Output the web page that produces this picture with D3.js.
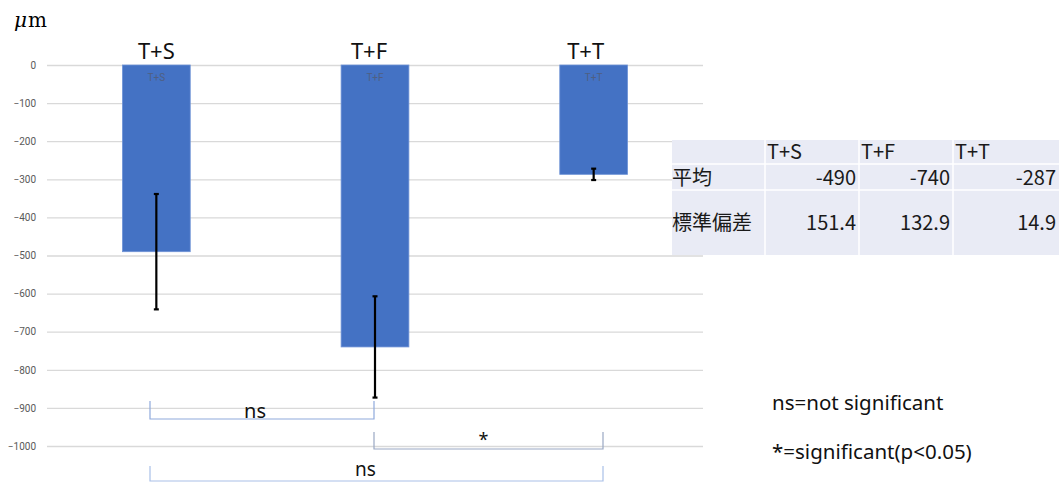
<!DOCTYPE html>
<html>
<head>
<meta charset="utf-8">
<script src="https://cdn.jsdelivr.net/npm/d3@7"></script>
<style>
  html, body { margin: 0; padding: 0; background: #fff; }
  svg { display: block; font-family: "Noto Sans CJK JP", "Noto Sans", sans-serif; }
</style>
</head>
<body>
<svg id="chart" width="1059" height="482"></svg>
<script>
// Mean displacement (µm) and standard deviation per group
const categories = ["T+S", "T+F", "T+T"];
const means = [-490, -740, -287];
const sds = [151.4, 132.9, 14.9];
const yTicks = [0, -100, -200, -300, -400, -500, -600, -700, -800, -900, -1000];

// Summary table rows
const tableHeader = ["", "T+S", "T+F", "T+T"];
const rowLabels = ["平均", "標準偏差"];
const meanText = ["-490", "-740", "-287"];
const sdText = ["151.4", "132.9", "14.9"];

// Pairwise comparisons: [from, to, label]
const comparisons = [
  ["T+S", "T+F", "ns"],
  ["T+F", "T+T", "*"],
  ["T+S", "T+T", "ns"]
];
const notes = ["ns=not significant", "*=significant(p<0.05)"];

const svg = d3.select("#chart");

const x = d3.scaleBand().domain(categories).range([47, 703]).paddingInner(0.69).paddingOuter(0.345);
const y = d3.scaleLinear().domain([0, -1000]).range([65, 446]);

// Gridlines + tick labels
const yAxis = d3.axisLeft(y).tickValues(yTicks).tickSize(-(703 - 47)).tickFormat(d3.format("d"));
const ga = svg.append("g").attr("transform", "translate(47,0)").call(yAxis);
ga.select(".domain").remove();
ga.selectAll(".tick line").attr("stroke", "#d9d9d9").attr("stroke-width", 1.3);
ga.selectAll(".tick text").attr("x", -11).attr("fill", "#595959")
  .style("font-family", "Roboto, 'Noto Sans', sans-serif").style("font-size", "10px");

// Unit label
svg.append("text").attr("x", 14).attr("y", 27)
  .style("font-family", "'DejaVu Serif', 'Liberation Serif', serif").style("font-size", "20px")
  .html('<tspan font-style="italic">μ</tspan><tspan dx="1">m</tspan>');

// Bars
svg.append("g").selectAll("rect").data(categories).join("rect")
  .attr("x", d => x(d))
  .attr("width", x.bandwidth())
  .attr("y", y(0))
  .attr("height", (d, i) => y(means[i]) - y(0))
  .attr("fill", "#4472c4")
  .attr("stroke", "#6f93d6").attr("stroke-width", 0.8);

// Inner labels
svg.append("g").selectAll("text").data(categories).join("text")
  .attr("x", d => x(d) + x.bandwidth() / 2)
  .attr("y", 81)
  .attr("text-anchor", "middle")
  .attr("fill", "#4f5f82")
  .style("font-size", "10px")
  .style("font-family", "Roboto, sans-serif")
  .text(d => d);

// Category titles above bars
svg.append("g").selectAll("text").data(categories).join("text")
  .attr("x", (d, i) => x(d) + x.bandwidth() / 2 - [0, 6, 8][i])
  .attr("y", 59)
  .attr("text-anchor", "middle")
  .attr("fill", "#111")
  .style("font-size", "22px")
  .style("font-family", "'Noto Sans', sans-serif")
  .text(d => d);

// Error bars
const eb = svg.append("g").attr("stroke", "#000").attr("stroke-width", 2.2);
categories.forEach((c, i) => {
  const cx = x(c) + x.bandwidth() / 2;
  const top = y(means[i] + sds[i]);
  const bot = y(means[i] - sds[i]);
  eb.append("line").attr("x1", cx).attr("x2", cx).attr("y1", top).attr("y2", bot);
  eb.append("line").attr("x1", cx - 2.5).attr("x2", cx + 2.5).attr("y1", top).attr("y2", top);
  eb.append("line").attr("x1", cx - 2.5).attr("x2", cx + 2.5).attr("y1", bot).attr("y2", bot);
});

// Significance brackets
const bracketRows = [
  { top: 401, base: 419, labelY: 418, color: "#8faadc", size: 20 },
  { top: 432, base: 449, labelY: 446, color: "#9aa8c4", size: 18 },
  { top: 466, base: 481, labelY: 476, color: "#a9c0e8", size: 19 }
];
const bracketX = { "T+S": 150, "T+F": 374, "T+T": 603 };
comparisons.forEach((cmp, i) => {
  const r = bracketRows[i];
  const x1 = bracketX[cmp[0]], x2 = bracketX[cmp[1]];
  svg.append("path")
    .attr("d", `M${x1},${r.top}V${r.base}H${x2}V${r.top}`)
    .attr("fill", "none").attr("stroke", r.color).attr("stroke-width", 1.2);
  svg.append("text")
    .attr("x", (x1 + x2) / 2 + (i === 0 ? -7 : (i === 1 ? -5 : -11)))
    .attr("y", r.labelY)
    .attr("text-anchor", "middle")
    .attr("fill", "#111")
    .style("font-size", r.size + "px")
    .style("font-family", "'Noto Sans', sans-serif")
    .text(cmp[2]);
});

// Notes
svg.append("g").selectAll("text").data(notes).join("text")
  .attr("x", 772)
  .attr("y", (d, i) => 410 + i * 49)
  .attr("fill", "#111")
  .style("font-size", "20.5px")
  .style("font-family", "'Noto Sans', sans-serif")
  .text(d => d);

// Summary table
const colEdges = [672, 765, 859, 953, 1059];
const rowEdges = [140, 164, 190, 255];
const tbl = svg.append("g");
tbl.append("rect").attr("x", colEdges[0]).attr("y", rowEdges[0])
  .attr("width", colEdges[4] - colEdges[0]).attr("height", rowEdges[3] - rowEdges[0])
  .attr("fill", "#e9ebf5");
colEdges.slice(1, 4).forEach(cx => tbl.append("line")
  .attr("x1", cx).attr("x2", cx).attr("y1", rowEdges[0]).attr("y2", rowEdges[3])
  .attr("stroke", "#fff").attr("stroke-width", 1.5));
rowEdges.slice(1, 3).forEach(ry => tbl.append("line")
  .attr("x1", colEdges[0]).attr("x2", colEdges[4]).attr("y1", ry).attr("y2", ry)
  .attr("stroke", "#fff").attr("stroke-width", 1.5));

const tStyle = s => s.attr("fill", "#1a1a1a").style("font-size", "20px")
  .style("font-family", "'Noto Sans CJK JP', sans-serif");
tableHeader.forEach((h, j) => {
  if (!h) return;
  tbl.append("text").attr("x", colEdges[j] + 2).attr("y", 159).text(h).call(tStyle);
});
tbl.append("text").attr("x", 672).attr("y", 185).text(rowLabels[0]).call(tStyle);
tbl.append("text").attr("x", 672).attr("y", 230).text(rowLabels[1]).call(tStyle);
meanText.forEach((v, j) => tbl.append("text").attr("x", colEdges[j + 2] - 3).attr("y", 185)
  .attr("text-anchor", "end").text(v).call(tStyle));
sdText.forEach((v, j) => tbl.append("text").attr("x", colEdges[j + 2] - 3).attr("y", 230)
  .attr("text-anchor", "end").text(v).call(tStyle));
</script>
</body>
</html>
